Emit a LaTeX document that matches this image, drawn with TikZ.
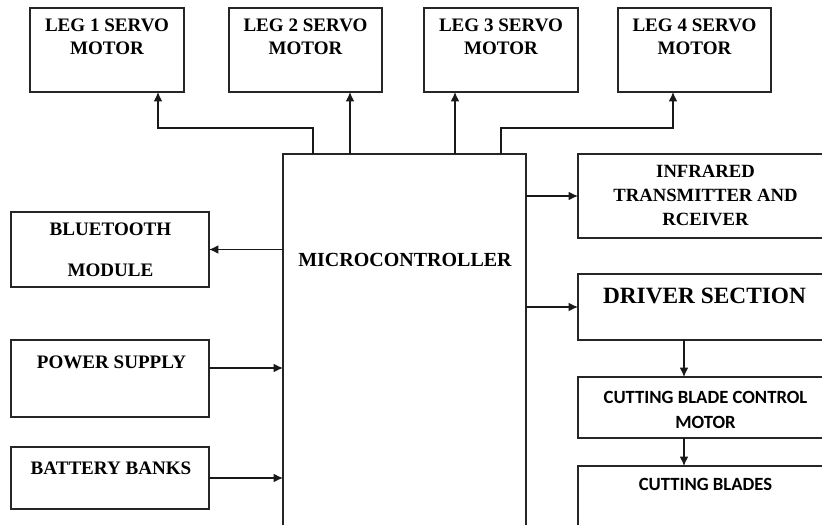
\documentclass[tikz,border=0pt]{standalone}
\usepackage{fontspec}
\setmainfont{Liberation Serif}
\newfontfamily\calib{Carlito}
\usetikzlibrary{arrows.meta}
\begin{document}
\begin{tikzpicture}[x=0.75pt,y=-0.75pt,
  box/.style={draw=black!85,line width=0.9pt,inner sep=0pt,outer sep=0pt},
  lbl/.style={font=\bfseries\fontsize{14.3}{17.5}\selectfont,align=center,inner sep=0pt},
  cal/.style={font=\calib\bfseries\fontsize{14}{19}\selectfont,align=center,inner sep=0pt},
  arr/.style={draw=black!90,line width=0.9pt,-{Latex[length=7pt,width=6.5pt]}}]
\useasboundingbox (0,0) rectangle (822,525);
\clip (0,0) rectangle (822,525);
\fill[white] (0,0) rectangle (822,525);
% boxes
\node[box,minimum width=154*0.75pt,minimum height=84*0.75pt] (leg1) at (107,50) {};
\node[box,minimum width=153*0.75pt,minimum height=84*0.75pt] (leg2) at (305.5,50) {};
\node[box,minimum width=154*0.75pt,minimum height=84*0.75pt] (leg3) at (501,50) {};
\node[box,minimum width=153*0.75pt,minimum height=84*0.75pt] (leg4) at (694.5,50) {};
\node[box,minimum width=243*0.75pt,minimum height=386*0.75pt] (micro) at (404.5,347) {};
\node[box,minimum width=254*0.75pt,minimum height=84*0.75pt] (infra) at (705,196) {};
\node[box,minimum width=198*0.75pt,minimum height=75*0.75pt] (blue) at (110,249.5) {};
\node[box,minimum width=198*0.75pt,minimum height=77*0.75pt] (power) at (110,378.5) {};
\node[box,minimum width=198*0.75pt,minimum height=62*0.75pt] (batt) at (110,478) {};
\node[box,minimum width=254*0.75pt,minimum height=66*0.75pt] (driver) at (705,307) {};
\node[box,minimum width=254*0.75pt,minimum height=61*0.75pt] (cbc) at (705,407.5) {};
\node[box,minimum width=254*0.75pt,minimum height=74*0.75pt] (blades) at (705,503) {};
% texts
\node[lbl] (leg1t) at (107,37) {LEG 1 SERVO\\MOTOR};
\node[lbl] (leg2t) at (305.5,37) {LEG 2 SERVO\\MOTOR};
\node[lbl] (leg3t) at (501,37) {LEG 3 SERVO\\MOTOR};
\node[lbl] (leg4t) at (694.5,37) {LEG 4 SERVO\\MOTOR};
\node[lbl,font=\bfseries\fontsize{15}{18}\selectfont] (microt) at (405,260) {MICROCONTROLLER};
\node[lbl,font=\bfseries\fontsize{14}{18}\selectfont] (infrat) at (705.5,195) {INFRARED\\TRANSMITTER AND\\RCEIVER};
\node[lbl] (bluet1) at (110.5,229.5) {BLUETOOTH};
\node[lbl] (bluet2) at (110.5,270.5) {MODULE};
\node[lbl] (powert) at (111.5,362.5) {POWER SUPPLY};
\node[lbl] (battt) at (111,468.5) {BATTERY BANKS};
\node[lbl,font=\bfseries\fontsize{17.5}{20}\selectfont] (drivert) at (704.5,296) {DRIVER SECTION};
\node[cal] (cbct) at (705.5,410) {CUTTING BLADE CONTROL\\MOTOR};
\node[cal] (bladest) at (705.5,484) {CUTTING BLADES};
% connectors
\coordinate (m1) at (313,0 |- micro.north);
\coordinate (m2) at (350,0 |- micro.north);
\coordinate (m3) at (455,0 |- micro.north);
\coordinate (m4) at (501,0 |- micro.north);
\draw[arr] (m1) -- ++(0,-26) -| (leg1.south -| 158,0);
\draw[arr] (m2) -- (leg2.south -| m2);
\draw[arr] (m3) -- (leg3.south -| m3);
\draw[arr] (m4) -- ++(0,-26) -| (leg4.south -| 673,0);
\draw[arr] (micro.east |- infra.west) -- (infra.west);
\draw[arr] (micro.west |- blue.east) -- (blue.east);
\draw[arr] (power.east |- 0,368) -- (micro.west |- 0,368);
\draw[arr] (batt.east) -- (micro.west |- batt.east);
\draw[arr] (micro.east |- driver.west) -- (driver.west);
\draw[arr] (driver.south -| 684,0) -- (cbc.north -| 684,0);
\draw[arr] (cbc.south -| 684,0) -- (blades.north -| 684,0);
\end{tikzpicture}
\end{document}
